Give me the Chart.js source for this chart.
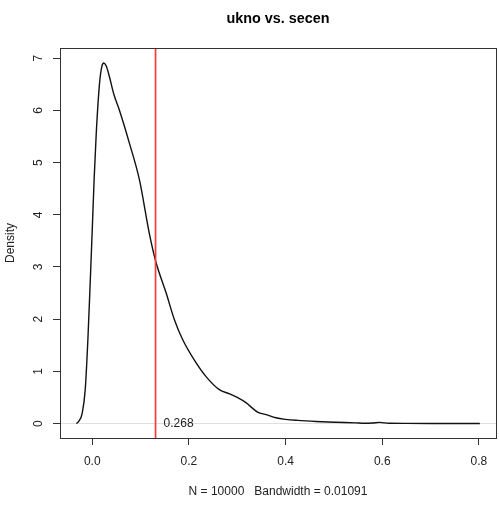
<!DOCTYPE html>
<html>
<head>
<meta charset="utf-8">
<script src="https://cdn.jsdelivr.net/npm/chart.js@4"></script>
<style>
  body { margin: 0; background: #fff; }
</style>
</head>
<body>
<canvas id="densityChart" width="499" height="505"></canvas>
<script>
// density curve
const densX = [-0.033, -0.028, -0.0207, -0.0145, -0.009, -0.004, 0.0, 0.004, 0.0083, 0.015, 0.020, 0.024,
  0.029, 0.0357, 0.045, 0.0564, 0.077, 0.0977, 0.118, 0.131, 0.153, 0.170, 0.187, 0.211, 0.2355, 0.263,
  0.284, 0.300, 0.318, 0.342, 0.36, 0.38, 0.40, 0.425, 0.463, 0.504, 0.545, 0.563, 0.58, 0.594, 0.614,
  0.65, 0.70, 0.75, 0.802];
const densY = [0.0, 0.04, 0.2, 0.65, 1.61, 2.75, 3.71, 4.7, 5.56, 6.51, 6.85, 6.91,
  6.85, 6.64, 6.3, 6.0, 5.37, 4.67, 3.65, 3.12, 2.5, 1.99, 1.61, 1.22, 0.90, 0.65,
  0.57, 0.50, 0.40, 0.22, 0.17, 0.11, 0.08, 0.06, 0.04, 0.025, 0.013, 0.005, 0.01, 0.022, 0.005,
  0.003, 0.002, 0.001, 0.0];

const xTicks = [0, 0.2, 0.4, 0.6, 0.8];
const xTickLabels = ["0.0", "0.2", "0.4", "0.6", "0.8"];
const yTicks = [0, 1, 2, 3, 4, 5, 6, 7];
const yTickLabels = ["0", "1", "2", "3", "4", "5", "6", "7"];

const cutoff = 0.131;
const cutoffLabel = "0.268";
const xRange = [-0.0667, 0.8354];
const yRange = [-0.277, 7.197];

Chart.defaults.font.family = "'Liberation Sans', Arial, sans-serif";
Chart.defaults.font.size = 12;
Chart.defaults.color = "#000";

// box around the plot region + text next to the red line
const boxPlugin = {
  id: "box",
  afterDraw(chart) {
    const { ctx, chartArea: a, scales } = chart;
    ctx.save();
    ctx.strokeStyle = "#333";
    ctx.lineWidth = 1;
    ctx.strokeRect(Math.round(a.left) + 0.5, Math.round(a.top) + 0.5,
      Math.round(a.right - a.left), Math.round(a.bottom - a.top));
    ctx.fillStyle = "#222";
    ctx.font = "12px 'Liberation Sans', Arial, sans-serif";
    ctx.textBaseline = "middle";
    ctx.fillText(cutoffLabel, scales.x.getPixelForValue(cutoff) + 8, scales.y.getPixelForValue(0));
    ctx.restore();
  }
};

new Chart(document.getElementById("densityChart"), {
  type: "line",
  data: {
    datasets: [
      {
        data: densX.map((x, i) => ({ x, y: densY[i] })),
        borderColor: "#111",
        borderWidth: 1.4,
        pointRadius: 0,
        cubicInterpolationMode: "monotone",
        order: 1,
      },
      {
        data: [{ x: cutoff, y: yRange[0] }, { x: cutoff, y: yRange[1] }],
        borderColor: "#ff3838",
        borderWidth: 1.7,
        pointRadius: 0,
        order: 0,
      },
      {
        data: [{ x: xRange[0], y: 0 }, { x: xRange[1], y: 0 }],
        borderColor: "#dedede",
        borderWidth: 1,
        pointRadius: 0,
        order: 2,
      },
    ],
  },
  options: {
    responsive: false,
    animation: false,
    devicePixelRatio: 1,
    layout: { padding: { left: 0, right: 3, top: 0, bottom: 0 } },
    plugins: {
      legend: { display: false },
      tooltip: { enabled: false },
      title: {
        display: true,
        text: "ukno vs. secen",
        fullSize: false,
        font: { size: 14.4, weight: "bold" },
        color: "#000",
        padding: { top: 10, bottom: 20.7 },
      },
    },
    scales: {
      x: {
        type: "linear",
        min: xRange[0],
        max: xRange[1],
        afterBuildTicks: (s) => { s.ticks = xTicks.map((v) => ({ value: v })); },
        afterFit: (s) => { s.height = 67; },
        border: { display: false },
        grid: { drawOnChartArea: false, tickLength: 7, color: "#333" },
        ticks: {
          padding: 9,
          maxRotation: 0,
          color: "#222",
          callback: (v, i) => xTickLabels[i],
        },
        title: {
          display: true,
          text: "N = 10000   Bandwidth = 0.01091",
          color: "#222",
          padding: { top: 0, bottom: 6 },
        },
      },
      y: {
        type: "linear",
        min: yRange[0],
        max: yRange[1],
        afterBuildTicks: (s) => { s.ticks = yTicks.map((v) => ({ value: v })); },
        afterFit: (s) => { s.width = 60; },
        border: { display: false },
        grid: { drawOnChartArea: false, tickLength: 7, color: "#333" },
        ticks: {
          padding: 11,
          minRotation: 90,
          maxRotation: 90,
          crossAlign: "center",
          color: "#222",
          callback: (v, i) => yTickLabels[i],
        },
        title: {
          display: true,
          text: "Density",
          color: "#222",
          padding: { top: 3, bottom: 0 },
        },
      },
    },
  },
  plugins: [boxPlugin],
});
</script>
</body>
</html>
